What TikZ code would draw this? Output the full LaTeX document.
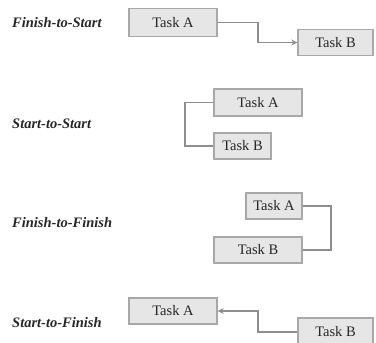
\documentclass[tikz,border=0pt]{standalone}
\usepackage{fontspec}
\setmainfont{Liberation Serif}
\usetikzlibrary{arrows.meta}
\definecolor{boxfill}{HTML}{E6E6E6}
\definecolor{boxline}{HTML}{A8A8A8}
\definecolor{conline}{HTML}{8E8E8E}
\begin{document}
\begin{tikzpicture}[x=1pt,y=-1pt,
  task/.style={draw=boxline,fill=boxfill,line width=1.4pt,inner sep=0pt,
    font=\fontsize{14.5}{16}\selectfont,text=black!85},
  rel/.style={font=\fontsize{14.5}{16}\selectfont\bfseries\itshape,anchor=west,inner sep=0pt,text=black!85},
  con/.style={draw=conline,line width=1.9pt},
  arr/.style={-{Stealth[length=6pt,width=6pt]}}]
\useasboundingbox (0,0) rectangle (376,343);
% Finish-to-Start
\node[rel] (l1) at (12,23) {Finish-to-Start};
\node[task,minimum width=88pt,minimum height=28pt] (a1) at (173,22.5) {Task A};
\node[task,minimum width=75pt,minimum height=26pt] (b1) at (335.5,42.5) {Task B};
\draw[con,arr] (a1.east) -- ++(40,0) |- (b1.west);
% Start-to-Start
\node[rel] (l2) at (12,124) {Start-to-Start};
\node[task,minimum width=88pt,minimum height=27pt] (a2) at (258,102.5) {Task A};
\node[task,minimum width=57pt,minimum height=26pt] (b2) at (242.5,146) {Task B};
\draw[con] (a2.west) -- ++(-28,0) |- (b2.west);
% Finish-to-Finish
\node[rel] (l3) at (12,223) {Finish-to-Finish};
\node[task,minimum width=56pt,minimum height=26pt] (a3) at (274,206) {Task A};
\node[task,minimum width=88pt,minimum height=26pt] (b3) at (258,250) {Task B};
\draw[con] (a3.east) -- ++(28,0) |- (b3.east);
% Start-to-Finish
\node[rel] (l4) at (12,323) {Start-to-Finish};
\node[task,minimum width=88pt,minimum height=26pt] (a4) at (173,311) {Task A};
\node[task,minimum width=75pt,minimum height=28pt] (b4) at (335.5,332) {Task B};
\draw[con,arr] (b4.west) -- ++(-39,0) |- (a4.east);
\end{tikzpicture}
\end{document}
